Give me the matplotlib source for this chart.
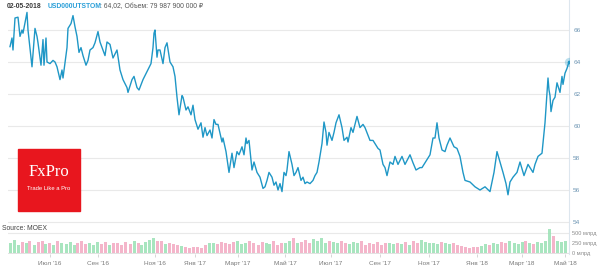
import matplotlib
matplotlib.use("Agg")
import matplotlib.pyplot as plt
import numpy as np
from matplotlib.patches import Rectangle

plt.rcParams["font.family"] = ["Liberation Sans", "DejaVu Sans"]

# trading sessions since the start of the window, and USD/RUB close
SESSION = [
    0, 2, 3, 5, 8, 10, 12, 13, 17, 18, 22, 25, 27, 28, 31, 33, 34, 36, 37, 40,
    43, 45, 47, 50, 52, 53, 57, 58, 61, 63, 65, 67, 69, 71, 73, 76, 78, 80, 83, 85,
    88, 90, 93, 95, 97, 100, 103, 107, 110, 113, 117, 118, 122, 124, 127, 129, 133, 137, 141, 143,
    144, 145, 147, 148, 150, 153, 155, 157, 160, 163, 165, 167, 169, 172, 173, 176, 178, 181, 183, 185,
    188, 191, 193, 195, 197, 200, 202, 204, 206, 208, 212, 213, 216, 219, 222, 224, 227, 229, 232, 234,
    236, 237, 239, 242, 244, 247, 250, 253, 255, 257, 259, 262, 264, 266, 268, 270, 272, 274, 276, 277,
    279, 282, 284, 286, 288, 291, 293, 295, 297, 300, 303, 305, 307, 309, 312, 314, 316, 317, 319, 322,
    324, 326, 329, 332, 334, 337, 338, 341, 343, 347, 350, 353, 355, 360, 363, 367, 368, 370, 373, 375,
    377, 380, 383, 385, 388, 392, 395, 400, 403, 406, 410, 412, 417, 420, 423, 425, 427, 429, 432, 435,
    437, 440, 444, 447, 450, 453, 455, 460, 465, 470, 475, 480, 484, 487, 490, 493, 496, 498, 500, 503,
    507, 510, 514, 518, 523, 525, 528, 532, 535, 538, 539, 540, 541, 543, 545, 547, 550, 552, 553, 555,
    557, 559,
]
PRICE = [
    64.96, 65.5, 64.75, 66.75, 66.8, 65.6, 66.0, 65.8, 67.1, 66.0, 63.7, 66.1, 65.6, 65.2, 63.8, 65.4, 63.8, 65.5, 64.0, 63.9,
    64.1, 64.0, 63.7, 62.9, 63.5, 63.0, 64.9, 66.1, 66.4, 66.9, 66.2, 65.6, 64.6, 64.9, 64.4, 63.8, 64.1, 64.75, 64.9, 65.2,
    65.9, 65.25, 64.75, 64.4, 65.25, 65.1, 64.25, 64.75, 63.5, 62.9, 62.4, 62.1, 62.9, 63.1, 62.4, 62.25, 62.9, 63.4, 63.9, 64.9,
    65.8, 66.0, 64.3, 64.75, 64.75, 63.9, 64.9, 65.2, 64.0, 63.7, 63.1, 61.8, 60.7, 61.9, 61.8, 61.0, 61.2, 60.7, 61.3, 60.4,
    59.8, 60.2, 59.3, 59.9, 59.4, 59.75, 59.25, 60.4, 60.1, 60.1, 59.0, 59.25, 58.4, 57.1, 58.3, 57.4, 58.4, 58.2, 58.7, 58.2,
    59.25, 58.9, 59.1, 57.25, 57.75, 57.1, 56.8, 56.1, 56.2, 56.6, 57.1, 56.8, 56.3, 56.5, 56.0, 56.4, 55.9, 57.1, 56.9, 57.25,
    58.4, 57.6, 56.9, 57.1, 57.4, 56.6, 56.8, 56.4, 56.5, 56.4, 56.6, 56.9, 57.1, 57.75, 58.9, 60.25, 59.6, 58.8, 59.6, 59.1,
    59.6, 60.2, 60.7, 59.9, 59.1, 59.3, 59.0, 59.9, 59.6, 60.6, 59.9, 60.1, 59.9, 59.1, 59.1, 58.7, 58.6, 58.5, 57.6, 57.4,
    56.9, 57.75, 57.6, 58.1, 57.6, 58.1, 57.6, 58.2, 57.7, 57.25, 57.4, 57.4, 57.9, 58.2, 59.25, 59.25, 60.2, 59.25, 58.5, 58.4,
    58.8, 59.25, 58.7, 58.6, 58.1, 57.1, 56.6, 56.5, 56.2, 56.0, 56.2, 55.9, 57.1, 58.4, 57.75, 57.1, 56.4, 55.7, 56.5, 56.8,
    57.1, 57.75, 56.9, 57.6, 57.1, 57.6, 58.1, 58.3, 60.2, 63.0, 62.25, 61.9, 60.9, 61.6, 61.8, 62.7, 62.1, 63.1, 62.6, 63.3,
    63.6, 64.02,
]

# daily turnover, bn RUB, one bar every 4 sessions
VOLUME = [
    260, 330, 210, 280, 240, 300, 190, 270, 310, 220, 260, 200, 290, 240,
    230, 280, 200, 260, 300, 220, 250, 190, 270, 230, 280, 210, 260, 240,
    200, 270, 230, 300, 250, 210, 280, 330, 380, 300, 290, 230, 250, 220,
    210, 180, 150, 120, 140, 160, 130, 200, 240, 260, 220, 280, 250, 230,
    270, 310, 220, 260, 300, 240, 200, 280, 250, 230, 290, 210, 260, 240,
    300, 370, 250, 280, 320, 240, 350, 290, 380, 260, 310, 270, 240, 290,
    260, 220, 280, 240, 300, 210, 250, 230, 270, 200, 240, 260, 220, 250,
    230, 270, 210, 300, 250, 330, 280, 240, 260, 220, 280, 250, 230, 260,
    200, 170, 150, 130, 160, 140, 180, 220, 200, 250, 230, 280, 240, 300,
    260, 220, 280, 300, 250, 230, 270, 240, 290, 600, 420, 310, 280, 300,
]
VOLUME_STEP = 4

TICK_SESSIONS = [40, 88, 145, 185, 228, 275, 321, 370, 419, 467, 512, 555]
TICK_LABELS = ["Июл '16", "Сен '16", "Ноя '16", "Янв '17", "Март '17", "Май '17",
               "Июл '17", "Сен '17", "Ноя '17", "Янв '18", "Март '18", "Май '18"]
PRICE_TICKS = [54, 56, 58, 60, 62, 64, 66]
VOLUME_TICKS = [0, 250, 500]

LINE = "#1f97c6"
GRID = "#e9e9e9"
AXIS = "#dde6ee"
W, H = 600, 267

fig = plt.figure(figsize=(W / 100, H / 100), dpi=100)
xlim = (-2, 559)

# price panel
ax = fig.add_axes([8 / W, 1 - 226 / H, 561 / W, 226 / H])
ax.set_xlim(*xlim)
ax.set_ylim(53.75, 67.875)
for level in PRICE_TICKS:
    ax.axhline(level, color=GRID, lw=0.8, zorder=0)
ax.plot(SESSION, PRICE, color=LINE, lw=1.0, zorder=3, solid_joinstyle="round")
ax.scatter([SESSION[-1]], [PRICE[-1]], s=45, color=LINE, alpha=0.3, lw=0, zorder=4)
ax.scatter([SESSION[-1]], [PRICE[-1]], s=7, color=LINE, lw=0, zorder=5)
for side in ["top", "left", "bottom"]:
    ax.spines[side].set_visible(False)
ax.spines["right"].set_color(AXIS)
ax.spines["right"].set_linewidth(0.8)
ax.set_xticks([])
ax.yaxis.tick_right()
ax.set_yticks(PRICE_TICKS)
ax.tick_params(axis="y", length=0, pad=3, labelsize=4.6, labelcolor="#6d95b3")
ax.patch.set_alpha(0)

# volume panel
vx = np.arange(len(VOLUME)) * VOLUME_STEP
vp = np.interp(vx, SESSION, PRICE)
prev = np.interp(vx - VOLUME_STEP, SESSION, PRICE)
colors = ["#9fe3b8" if p >= q else "#f3adc5" for p, q in zip(vp, prev)]

vax = fig.add_axes([8 / W, 1 - 254 / H, 561 / W, 28 / H])
vax.set_xlim(*xlim)
vax.set_ylim(-25, 675)
vax.axhline(0, color="#e2e2e2", lw=0.8, zorder=0)
vax.axhline(500, color=GRID, lw=0.8, zorder=0)
vax.bar(vx, VOLUME, width=3.0, color=colors, alpha=0.9, lw=0, zorder=2)
for side in ["top", "left", "bottom"]:
    vax.spines[side].set_visible(False)
vax.spines["right"].set_color(AXIS)
vax.spines["right"].set_linewidth(0.8)
vax.yaxis.tick_right()
vax.set_yticks(VOLUME_TICKS)
vax.set_yticklabels([f"{v} млрд" for v in VOLUME_TICKS])
vax.tick_params(axis="y", length=0, pad=2, labelsize=4.1, labelcolor="#8a8a8a")
vax.set_xticks(TICK_SESSIONS)
vax.set_xticklabels(TICK_LABELS)
vax.tick_params(axis="x", length=2, width=0.6, color="#d0d0d0", pad=3,
                labelsize=4.6, labelcolor="#7a7a7a")
vax.patch.set_alpha(0)

# header
fig.text(7 / W, 1 - 7 / H, "02-05-2018", fontsize=4.9, weight="bold",
         color="#3a3a3a", va="center")
fig.text(48 / W, 1 - 7 / H, "USD000UTSTOM", fontsize=4.9, weight="bold",
         color="#2a9fd8", va="center")
fig.text(100 / W, 1 - 7 / H, ": 64,02, Объем: 79 987 900 000 ₽", fontsize=4.9,
         color="#555555", va="center")
fig.text(2 / W, 1 - 229 / H, "Source: MOEX", fontsize=4.9, color="#444444",
         va="center")

# FxPro badge
fig.patches.append(Rectangle((18 / W, 1 - 211 / H), 62 / W, 62 / H,
                             transform=fig.transFigure, color="#e8161e", zorder=5))
fig.text(49 / W, 1 - 172 / H, "FxPro", fontsize=12, color="white",
         family="Liberation Serif", ha="center", va="center", zorder=6)
fig.text(49 / W, 1 - 189 / H, "Trade Like a Pro", fontsize=4.2, color="white",
         ha="center", va="center", zorder=6)

fig.savefig("out.png", dpi=100)
